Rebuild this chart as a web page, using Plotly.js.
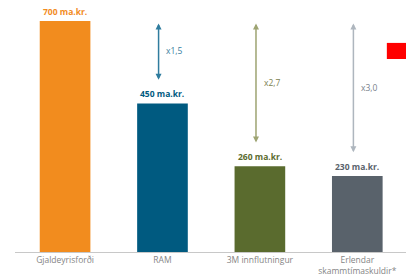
<!DOCTYPE html>
<html><head><meta charset="utf-8">
<script src="https://cdn.plot.ly/plotly-3.0.1.min.js"></script>
<style>html,body{margin:0;padding:0;background:#fff}#c{width:406px;height:278px}</style>
</head><body><div id="c"></div>
<script>
const categories = ["Gjaldeyrisforði", "RAM", "3M innflutningur", "Erlendar<br>skammtímaskuldir*"];
const values = [700, 450, 260, 230];
const valueLabels = ["700 ma.kr.", "450 ma.kr.", "260 ma.kr.", "230 ma.kr."];
const barColors = ["#F28C1E", "#005A80", "#5A6B2E", "#59626B"];
const multipliers = ["x1,5", "x2,7", "x3,0"];
const arrowColors = ["#2F7C9E", "#9EA472", "#AEB6BE"];
const labelColors = ["#3A7FA0", "#7C8250", "#78828C"];

const idx = categories.map((_, i) => i);
const font = "Open Sans, Noto Sans, sans-serif";

const annotations = [];
values.forEach((v, i) => {
  annotations.push({x: i, y: v, xref: 'x', yref: 'y', text: '<b>' + valueLabels[i] + '</b>',
    showarrow: false, yanchor: 'bottom', yshift: 2,
    font: {family: font, size: 8.5, color: barColors[i]}});
});
multipliers.forEach((m, k) => {
  const i = k + 1;
  const xa = i - 0.04;
  const yTop = values[0] - 3;
  const yBot = values[i] + 72;
  annotations.push({x: xa, y: yBot, ax: xa, ay: yTop, xref: 'x', yref: 'y', axref: 'x', ayref: 'y',
    text: '', showarrow: true, arrowhead: 2, arrowside: 'end+start', arrowsize: 0.8, arrowwidth: 1.5,
    arrowcolor: arrowColors[k]});
  annotations.push({x: xa + 0.06, y: (yTop + yBot) / 2, xref: 'x', yref: 'y', text: m,
    showarrow: false, xanchor: 'left', font: {family: font, size: 8.5, color: labelColors[k]}});
});

Plotly.newPlot('c', [{
  type: 'bar', x: idx, y: values, width: 0.52,
  marker: {color: barColors, line: {width: 0}},
  hoverinfo: 'none'
}], {
  width: 406, height: 278,
  margin: {l: 15, r: 0, t: 10, b: 26},
  paper_bgcolor: '#fff', plot_bgcolor: '#fff',
  showlegend: false,
  xaxis: {range: [-0.514, 3.5], tickvals: idx, ticktext: categories, showgrid: false, zeroline: false,
    showline: true, linecolor: '#C8C8C8', linewidth: 1, ticks: '',
    tickfont: {family: font, size: 8.5, color: '#858585'}, fixedrange: true},
  yaxis: {range: [0, 733], visible: false, showgrid: false, zeroline: false, fixedrange: true},
  annotations: annotations,
  shapes: [{type: 'rect', xref: 'paper', yref: 'paper', x0: 0.951, x1: 1.0, y0: 0.7975, y1: 0.864,
    fillcolor: '#FF0000', line: {width: 0}}]
}, {staticPlot: true});
</script></body></html>
